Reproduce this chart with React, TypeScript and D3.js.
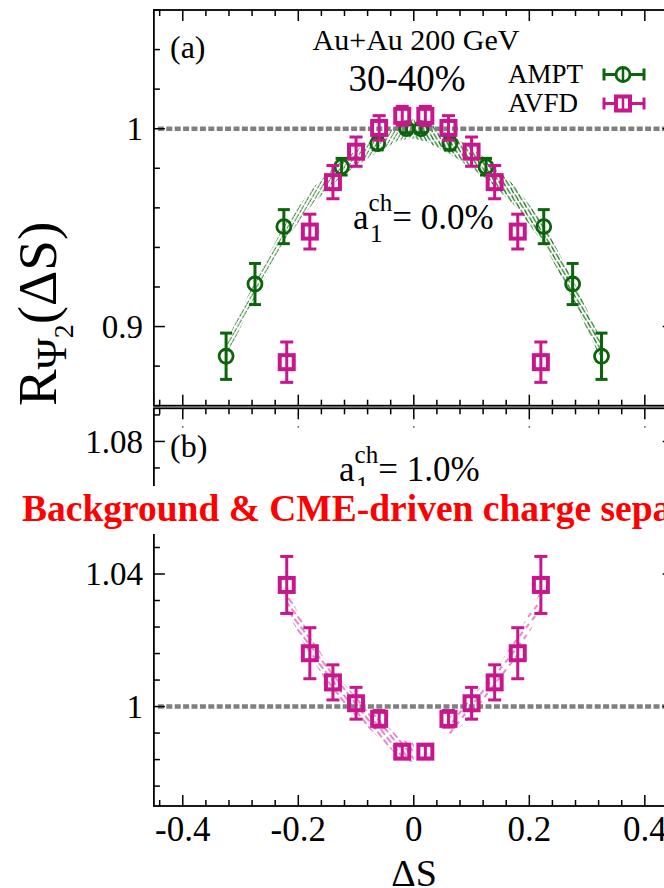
import React from "react";
import * as d3 from "d3";

// ---------- data ----------
const amptX = [-0.325, -0.275, -0.225, -0.125, -0.0625, -0.0125, 0.0125, 0.0625, 0.125, 0.225, 0.275, 0.325];
const amptY = [0.885, 0.9215, 0.9505, 0.9808, 0.9925, 1.0, 1.0, 0.9925, 0.9808, 0.9505, 0.9215, 0.885];
const amptErr = [0.0117, 0.0104, 0.0086, 0.0042, 0.0032, 0.002, 0.002, 0.0032, 0.0042, 0.0086, 0.0104, 0.0117];

const avfdX = [-0.22, -0.18, -0.14, -0.1, -0.06, -0.02, 0.02, 0.06, 0.1, 0.14, 0.18, 0.22];
const avfdAY = [0.882, 0.948, 0.973, 0.9884, 1.0004, 1.0065, 1.0065, 1.0004, 0.9884, 0.973, 0.948, 0.882];
const avfdAErr = [0.0102, 0.0088, 0.0084, 0.0074, 0.0062, 0.0048, 0.0048, 0.0062, 0.0074, 0.0084, 0.0088, 0.0102];

const avfdBY = [1.0367, 1.0161, 1.0073, 1.001, 0.9963, 0.9864, 0.9864, 0.9963, 1.001, 1.0073, 1.0161, 1.0367];
const avfdBErr = [0.0086, 0.0077, 0.0053, 0.0048, 0.0025, 0.002, 0.002, 0.0025, 0.0048, 0.0053, 0.0077, 0.0086];

// model bands
const bandAX = [-0.325, -0.275, -0.225, -0.175, -0.125, -0.075, -0.025, 0, 0.025, 0.075, 0.125, 0.175, 0.225, 0.275, 0.325];
const bandAMid = [0.888, 0.919, 0.947, 0.966, 0.98, 0.99, 0.998, 1.0, 0.998, 0.99, 0.98, 0.966, 0.947, 0.919, 0.888];
const bandAHalf = [0.004, 0.004, 0.004, 0.004, 0.004, 0.004, 0.004, 0.005, 0.005, 0.005, 0.005, 0.005, 0.005, 0.005, 0.005];

const bandBX = [-0.22, -0.18, -0.14, -0.1, -0.06, -0.02, 0, 0.02, 0.06, 0.1, 0.14, 0.18, 0.22];
const bandBMid = [1.032, 1.0185, 1.0075, 1.0, 0.9935, 0.9868, 0.9862, 0.9868, 0.9935, 1.0, 1.0075, 1.0185, 1.032];
const bandBHalf = [0.003, 0.003, 0.003, 0.003, 0.003, 0.003, 0.003, 0.003, 0.003, 0.003, 0.003, 0.003, 0.003];

const xTickVals = [-0.4, -0.2, 0, 0.2, 0.4];
const xTickLabels = ["-0.4", "-0.2", "0", "0.2", "0.4"];
const yATickVals = [0.9, 1.0];
const yATickLabels = ["0.9", "1"];
const yBTickVals = [1.0, 1.04, 1.08];
const yBTickLabels = ["1", "1.04", "1.08"];

const seriesNames = ["AMPT", "AVFD"];

// ---------- style ----------
const GREEN = "#0b640b";
const MAG = "#c8168c";
const GRAY = "#808080";
const FONT = "'Liberation Serif', 'Times New Roman', serif";

const W = 664;
const H = 888;
const X0 = 153.9;
const X1 = 673.7;

export default function App() {
  const x = d3.scaleLinear().domain([-0.45, 0.45]).range([X0, X1]);
  const yA = d3.scaleLinear().domain([0.86, 1.06]).range([405.7, 10]);
  const yB = d3.scaleLinear().domain([0.97, 1.09]).range([806, 408.3]);

  const xMinor = d3.range(-11, 12).map((i) => ({ v: i * 0.04, major: i % 5 === 0 }));
  const yAMinor = d3.range(43, 54).map((i) => ({ v: i * 0.02, major: i % 5 === 0 }));
  const yBMinor = d3.range(-3, 12).map((k) => ({ v: 1 + k * 0.008, major: k % 5 === 0 }));

  const frameTicks = (y: d3.ScaleLinear<number, number>, yt: { v: number; major: boolean }[], key: string) => {
    const [yBot, yTop] = y.range();
    const out: JSX.Element[] = [];
    xMinor.forEach((t, i) => {
      const px = x(t.v);
      const L = t.major ? 11 : 6;
      out.push(<line key={`${key}xb${i}`} x1={px} x2={px} y1={yBot} y2={yBot - L} stroke="#000" strokeWidth={1.5} />);
      out.push(<line key={`${key}xt${i}`} x1={px} x2={px} y1={yTop} y2={yTop + L} stroke="#000" strokeWidth={1.5} />);
    });
    yt.forEach((t, i) => {
      const py = y(t.v);
      if (py < yTop - 0.5 || py > yBot + 0.5) return;
      const L = t.major ? 11 : 6;
      out.push(<line key={`${key}yl${i}`} x1={X0} x2={X0 + L} y1={py} y2={py} stroke="#000" strokeWidth={1.5} />);
      out.push(<line key={`${key}yr${i}`} x1={X1} x2={X1 - L} y1={py} y2={py} stroke="#000" strokeWidth={1.5} />);
    });
    out.push(
      <rect key={`${key}frame`} x={X0} y={yTop} width={X1 - X0} height={yBot - yTop} fill="none" stroke="#000" strokeWidth={1.8} />
    );
    return out;
  };

  const bandPath = (y: d3.ScaleLinear<number, number>, xs: number[], mid: number[], half: number[], filt: (v: number) => boolean) => {
    const pts = xs.map((v, i) => ({ x: v, lo: mid[i] - half[i], hi: mid[i] + half[i] })).filter((p) => filt(p.x));
    const area = d3
      .area<{ x: number; lo: number; hi: number }>()
      .x((d) => x(d.x))
      .y0((d) => y(d.lo))
      .y1((d) => y(d.hi));
    return area(pts) || "";
  };

  const circleMark = (cx: number, cy: number, e0: number, e1: number, key: string, color: string) => (
    <g key={key} stroke={color} fill="none">
      <line x1={cx} x2={cx} y1={e0} y2={e1} strokeWidth={3} />
      <line x1={cx - 6} x2={cx + 6} y1={e0} y2={e0} strokeWidth={3} />
      <line x1={cx - 6} x2={cx + 6} y1={e1} y2={e1} strokeWidth={3} />
      <circle cx={cx} cy={cy} r={7} strokeWidth={2.8} />
    </g>
  );
  const squareMark = (cx: number, cy: number, e0: number, e1: number, key: string, color: string) => (
    <g key={key} stroke={color} fill="none">
      <line x1={cx} x2={cx} y1={e0} y2={e1} strokeWidth={3} />
      <line x1={cx - 6.5} x2={cx + 6.5} y1={e0} y2={e0} strokeWidth={3} />
      <line x1={cx - 6.5} x2={cx + 6.5} y1={e1} y2={e1} strokeWidth={3} />
      <rect x={cx - 7} y={cy - 7} width={14} height={14} strokeWidth={4} />
    </g>
  );

  const ampt = amptX.map((v, i) =>
    circleMark(x(v), yA(amptY[i]), yA(amptY[i] + amptErr[i]), yA(amptY[i] - amptErr[i]), `am${i}`, GREEN)
  );
  const avfdA = avfdX.map((v, i) =>
    squareMark(x(v), yA(avfdAY[i]), yA(avfdAY[i] + avfdAErr[i]), yA(avfdAY[i] - avfdAErr[i]), `aa${i}`, MAG)
  );
  const avfdB = avfdX.map((v, i) =>
    squareMark(x(v), yB(avfdBY[i]), yB(avfdBY[i] + avfdBErr[i]), yB(avfdBY[i] - avfdBErr[i]), `ab${i}`, MAG)
  );

  return (
    <svg width={W} height={H} style={{ position: "absolute", left: 0, top: 0, background: "#fff" }} fontFamily={FONT}>
      <defs>
        <pattern id="hatchGL" width="10" height="3.2" patternUnits="userSpaceOnUse" patternTransform="rotate(-60)">
          <line x1="0" y1="1" x2="10" y2="1" stroke={GREEN} strokeWidth="0.9" strokeDasharray="4 1.5" />
        </pattern>
        <pattern id="hatchGR" width="3.6" height="8" patternUnits="userSpaceOnUse" patternTransform="rotate(-8)">
          <line x1="0.5" y1="0.5" x2="3.2" y2="7" stroke={GREEN} strokeWidth="1.2" />
        </pattern>
        <pattern id="hatchML" width="10" height="4" patternUnits="userSpaceOnUse" patternTransform="rotate(52)">
          <line x1="0" y1="1" x2="10" y2="1" stroke={MAG} strokeWidth="1" strokeDasharray="6 3" />
        </pattern>
        <pattern id="hatchMR" width="10" height="5" patternUnits="userSpaceOnUse" patternTransform="rotate(-52)">
          <line x1="0" y1="1" x2="10" y2="1" stroke={MAG} strokeWidth="1" strokeDasharray="4 5" />
        </pattern>
      </defs>
      <rect x={0} y={0} width={W} height={H} fill="#fff" />

      {/* bands */}
      <path d={bandPath(yA, bandAX, bandAMid, bandAHalf, (v) => v <= 0)} fill="url(#hatchGL)" />
      <path d={bandPath(yA, bandAX, bandAMid, bandAHalf, (v) => v >= 0)} fill="url(#hatchGR)" />
      <path d={bandPath(yB, bandBX, bandBMid, bandBHalf, (v) => v <= 0)} fill="url(#hatchML)" />
      <path d={bandPath(yB, bandBX, bandBMid, bandBHalf, (v) => v >= 0.04)} fill="url(#hatchMR)" />

      {/* reference lines at 1 */}
      <line x1={X0 + 4} x2={X1} y1={yA(1)} y2={yA(1)} stroke={GRAY} strokeWidth={4.5} strokeDasharray="6 2.4" />
      <line x1={X0 + 4} x2={X1} y1={yB(1)} y2={yB(1)} stroke={GRAY} strokeWidth={4.5} strokeDasharray="6 2.4" />

      {/* frames and ticks */}
      {frameTicks(yA, yAMinor, "a")}
      {frameTicks(yB, yBMinor, "b")}

      {/* stray marks under top of panel b */}
      {xTickVals.map((v, i) => (
        <rect key={`dot${i}`} x={x(v) - 0.8} y={426} width={1.6} height={1.8} fill="#777" />
      ))}

      {/* data */}
      {ampt}
      {avfdA}
      {avfdB}

      {/* tick labels */}
      {yATickVals.map((v, i) => (
        <text key={`yal${i}`} x={143} y={yA(v)} dy="0.34em" textAnchor="end" fontSize={33}>
          {yATickLabels[i]}
        </text>
      ))}
      {yBTickVals.map((v, i) => (
        <text key={`ybl${i}`} x={143} y={yB(v)} dy="0.34em" textAnchor="end" fontSize={33}>
          {yBTickLabels[i]}
        </text>
      ))}
      {xTickVals.map((v, i) => (
        <text key={`xl${i}`} x={x(v)} y={841} textAnchor="middle" fontSize={35}>
          {xTickLabels[i]}
        </text>
      ))}

      {/* axis titles */}
      <text x={414} y={886} textAnchor="middle" fontSize={38}>
        ΔS
      </text>
      <text transform="translate(56,406) rotate(-90)" fontSize={55}>
        R
        <tspan fontSize={42} dy={10}>Ψ</tspan>
        <tspan fontSize={28} dy={7}>2</tspan>
        <tspan fontSize={55} dy={-17}>(ΔS)</tspan>
      </text>

      {/* panel a annotations */}
      <text x={170} y={58} fontSize={32}>(a)</text>
      <text x={416} y={50} textAnchor="middle" fontSize={30}>Au+Au 200 GeV</text>
      <text x={407} y={91} textAnchor="middle" fontSize={37}>30-40%</text>

      <text x={508} y={83} fontSize={27}>{seriesNames[0]}</text>
      <text x={508} y={112} fontSize={27}>{seriesNames[1]}</text>
      <g stroke={GREEN} fill="none">
        <line x1={604} x2={644} y1={74.5} y2={74.5} strokeWidth={3} />
        <line x1={604} x2={604} y1={68.5} y2={80.5} strokeWidth={3} />
        <line x1={644} x2={644} y1={68.5} y2={80.5} strokeWidth={3} />
        <circle cx={623} cy={74.5} r={7} strokeWidth={2.8} fill="#fff" />
        <line x1={623} x2={623} y1={68} y2={81} strokeWidth={2.5} />
      </g>
      <g stroke={MAG} fill="none">
        <line x1={604} x2={644} y1={103.5} y2={103.5} strokeWidth={3} />
        <line x1={604} x2={604} y1={97.5} y2={109.5} strokeWidth={3} />
        <line x1={644} x2={644} y1={97.5} y2={109.5} strokeWidth={3} />
        <rect x={616} y={96.5} width={14} height={14} strokeWidth={4} fill="#fff" />
        <line x1={623} x2={623} y1={97} y2={110} strokeWidth={2.5} />
      </g>

      <text x={353} y={229} fontSize={35}>
        a<tspan fontSize={25} dy={-18}>ch</tspan>
        <tspan dy={18}>= 0.0%</tspan>
      </text>
      <text x={370} y={242} fontSize={25}>1</text>

      {/* panel b annotations */}
      <text x={170} y={457} fontSize={32}>(b)</text>
      <text x={339} y={481} fontSize={35}>
        a<tspan fontSize={25} dy={-18}>ch</tspan>
        <tspan dy={18}>= 1.0%</tspan>
      </text>
      <text x={356} y={494} fontSize={25}>1</text>

      {/* overlay banner */}
      <rect x={0} y={486} width={W} height={48} fill="#fff" />
      <text x={22} y={521} fontSize={37.5} fontWeight="bold" fill="#ff0000">
        Background &amp; CME-driven charge separation
      </text>
    </svg>
  );
}
